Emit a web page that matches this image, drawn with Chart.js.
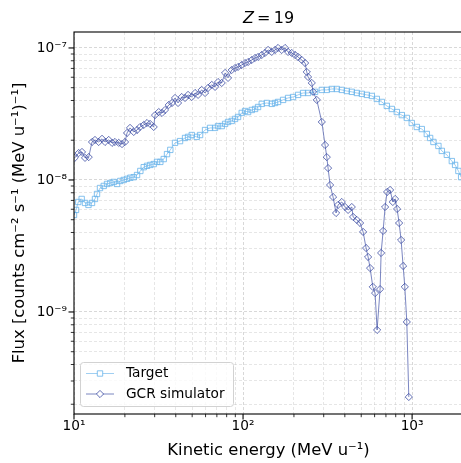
<!DOCTYPE html>
<html><head><meta charset="utf-8">
<script src="https://cdn.jsdelivr.net/npm/chart.js@4.4.1/dist/chart.umd.min.js"></script>
<style>
html,body{margin:0;padding:0;overflow:hidden;background:#fff;width:461px;height:463px}
#wrap{position:absolute;left:0;top:0;width:470px;height:463px}
</style>
</head><body><div id="wrap"><canvas id="c" width="470" height="463"></canvas></div>
<script>
// ---------------- data ----------------
const energyTarget = [10.0,10.28,10.60,11.10,11.62,12.18,12.78,13.31,13.68,14.25,
14.99,15.68,16.40,17.18,17.97,18.79,19.68,20.59,21.54,22.56,
23.60,24.69,25.85,27.04,28.28,29.62,30.98,32.41,33.94,35.50,
37.13,39.59,42.39,45.38,47.28,49.71,53.2,55.7,59.6,63.8,
68.3,71.1,74.8,78.3,81.5,85.7,89.7,93.4,98.2,102.8,
107.1,112.6,117.8,122.7,129.0,138.1,147.8,154.6,161.1,172.5,
184.6,197.6,211.5,226.5,242.4,266.7,292.3,312.8,334.9,358.4,
383.7,410.8,439.8,470.8,504.1,539.6,577.5,618.3,661.8,708.5,
758.5,812,869,930,995,1066,1141,1222,1278,1337,
1431,1499,1605,1718,1796,1879,1950];
const fluxTarget = [5.43e-9,5.93e-9,6.81e-9,7.18e-9,6.70e-9,6.47e-9,6.70e-9,7.18e-9,7.83e-9,8.69e-9,
9.01e-9,9.33e-9,9.49e-9,9.66e-9,9.33e-9,9.83e-9,1.00e-8,1.02e-8,1.04e-8,1.05e-8,
1.09e-8,1.17e-8,1.25e-8,1.28e-8,1.30e-8,1.32e-8,1.37e-8,1.37e-8,1.44e-8,1.57e-8,
1.69e-8,1.91e-8,1.97e-8,2.08e-8,2.12e-8,2.19e-8,2.12e-8,2.19e-8,2.39e-8,2.48e-8,
2.48e-8,2.56e-8,2.56e-8,2.66e-8,2.75e-8,2.80e-8,2.90e-8,3.00e-8,3.22e-8,3.33e-8,
3.27e-8,3.39e-8,3.45e-8,3.57e-8,3.77e-8,3.83e-8,3.77e-8,3.83e-8,3.90e-8,4.04e-8,
4.18e-8,4.25e-8,4.41e-8,4.56e-8,4.56e-8,4.65e-8,4.81e-8,4.81e-8,4.89e-8,4.89e-8,
4.81e-8,4.72e-8,4.65e-8,4.56e-8,4.49e-8,4.41e-8,4.33e-8,4.11e-8,3.90e-8,3.64e-8,
3.45e-8,3.27e-8,3.10e-8,2.95e-8,2.70e-8,2.52e-8,2.43e-8,2.23e-8,2.08e-8,1.94e-8,
1.81e-8,1.66e-8,1.55e-8,1.39e-8,1.30e-8,1.17e-8,1.05e-8];

const energyGCR = [10.1,10.66,11.15,11.62,12.22,12.78,13.31,14.00,14.65,15.26,
16.05,16.79,17.48,18.39,19.23,20.04,20.59,21.45,22.56,23.60,
24.58,25.85,27.04,28.17,29.62,30.15,31.71,33.17,34.55,36.34,
38.01,39.59,41.25,43.38,45.38,47.28,49.71,52.0,54.2,56.9,
59.6,62.1,65.3,68.3,71.1,74.8,78.3,81.5,85.7,89.7,
93.4,98.2,102.8,107.1,112.6,117.8,122.7,129.0,134.9,140.6,
147.8,154.6,161.1,169.4,177.2,184.6,194.1,203.1,211.5,222.5,
232.8,238.2,242.4,255.0,259.5,273.0,292.3,305.6,312.8,318.4,
327.2,340.8,355.0,364.8,383.7,401.5,418.1,439.8,447.6,470.8,
492.3,513.1,534.4,549.1,564.3,585.5,604.1,620.8,646.7,655.6,
673.7,692.2,711.2,741.0,768.8,793.3,815.2,837.8,860.9,884.6,
905.4,930.3,955.9];
const fluxGCR = [1.47e-8,1.60e-8,1.63e-8,1.47e-8,1.49e-8,1.94e-8,2.01e-8,1.94e-8,2.05e-8,1.94e-8,
2.01e-8,1.91e-8,1.94e-8,1.91e-8,1.87e-8,1.94e-8,2.27e-8,2.48e-8,2.31e-8,2.39e-8,
2.52e-8,2.61e-8,2.70e-8,2.66e-8,2.52e-8,3.10e-8,3.27e-8,3.22e-8,3.39e-8,3.70e-8,
3.83e-8,4.18e-8,3.83e-8,4.25e-8,4.18e-8,4.41e-8,4.25e-8,4.56e-8,4.41e-8,4.81e-8,
4.56e-8,4.98e-8,5.25e-8,5.07e-8,5.52e-8,5.43e-8,6.47e-8,5.93e-8,6.81e-8,7.05e-8,
7.18e-8,7.43e-8,7.69e-8,7.83e-8,8.11e-8,8.40e-8,8.55e-8,8.85e-8,9.16e-8,9.66e-8,
9.33e-8,9.66e-8,1.00e-7,9.66e-8,1.00e-7,9.33e-8,9.16e-8,8.85e-8,8.55e-8,8.11e-8,
7.69e-8,6.58e-8,6.03e-8,5.43e-8,4.65e-8,4.04e-8,2.75e-8,1.84e-8,1.49e-8,1.23e-8,
9.16e-9,7.43e-9,5.62e-9,6.47e-9,6.81e-9,6.24e-9,5.93e-9,6.24e-9,5.25e-9,4.98e-9,
4.72e-9,4.04e-9,3.05e-9,2.61e-9,2.15e-9,1.55e-9,1.39e-9,7.31e-10,1.49e-9,2.80e-9,
4.11e-9,6.24e-9,8.11e-9,8.40e-9,6.81e-9,7.18e-9,6.03e-9,4.72e-9,3.51e-9,2.23e-9,
1.55e-9,8.40e-10,2.27e-10];

const seriesNames = ['Target', 'GCR simulator'];
const xRange = [10, 2000];
const yRange = [1.687e-10, 1.321e-7];
const xMajorTicks = [10, 100, 1000];
const xTickLabels = ['10¹', '10²', '10³'];
const yMajorTicks = [1e-9, 1e-8, 1e-7];
const yTickLabels = ['10⁻⁹', '10⁻⁸', '10⁻⁷'];
const titleParts = ['Z', '=', '19'];
const xTitle = 'Kinetic energy (MeV u⁻¹)';
const yTitle = 'Flux [counts cm⁻² s⁻¹ (MeV u⁻¹)⁻¹]';

// ---------------- styling ----------------
const FONT = "'DejaVu Sans', sans-serif";
const C_T_MARK = '#67b3ea', C_T_LINE = 'rgba(103,179,234,0.7)';
const C_G_MARK = '#3a4aa2', C_G_LINE = 'rgba(58,74,162,0.75)';

function toPoints(xs, ys){ return xs.map((x,i)=>({x:x, y:ys[i]})); }

function logTicks(min, max){
  const out = [];
  const e0 = Math.floor(Math.log10(min)), e1 = Math.ceil(Math.log10(max));
  for (let e = e0; e <= e1; e++) {
    for (let m = 1; m <= 9; m++) {
      const v = +(m * Math.pow(10, e)).toPrecision(6);
      if (v >= min * 0.9999 && v <= max * 1.0001) out.push({value: v, major: m === 1});
    }
  }
  return out;
}
function labelFor(v, majors, labels){
  const i = majors.findIndex(m => Math.abs(m - v) / m < 1e-6);
  return i >= 0 ? labels[i] : '';
}
const gridColor = (c) => (c.tick && c.tick.major) ? 'rgba(165,165,165,0.55)' : 'rgba(185,185,185,0.45)';

const decor = {
  id: 'decor',
  afterDraw(chart){
    const {ctx, chartArea: a, scales: {x, y}} = chart;
    ctx.save();
    // tick marks
    ctx.strokeStyle = '#000';
    x.ticks.forEach(t => {
      const px = x.getPixelForValue(t.value);
      if (px < a.left - 0.5 || px > a.right + 0.5) return;
      ctx.lineWidth = t.major ? 1.1 : 0.8;
      ctx.beginPath(); ctx.moveTo(px, a.bottom); ctx.lineTo(px, a.bottom + (t.major ? 5.5 : 3.2)); ctx.stroke();
    });
    y.ticks.forEach(t => {
      const py = y.getPixelForValue(t.value);
      if (py < a.top - 0.5 || py > a.bottom + 0.5) return;
      ctx.lineWidth = t.major ? 1.1 : 0.8;
      ctx.beginPath(); ctx.moveTo(a.left, py); ctx.lineTo(a.left - (t.major ? 5.5 : 3.2), py); ctx.stroke();
    });
    // frame
    ctx.lineWidth = 1.1; ctx.strokeStyle = '#000';
    ctx.strokeRect(a.left, a.top, a.right - a.left, a.bottom - a.top);
    // title (math style: italic Z, relation spacing 0.2em)
    const cx = (a.left + a.right) / 2, fs = 16;
    ctx.fillStyle = '#000'; ctx.textBaseline = 'alphabetic'; ctx.textAlign = 'left';
    const fonts = ['italic ' + fs + 'px ' + FONT, fs + 'px ' + FONT, fs + 'px ' + FONT];
    const gap = 0.2 * fs;
    const widths = titleParts.map((p, i) => { ctx.font = fonts[i]; return ctx.measureText(p).width; });
    const total = widths[0] + widths[1] + widths[2] + 2 * gap;
    let sx = cx - total / 2;
    titleParts.forEach((p, i) => { ctx.font = fonts[i]; ctx.fillText(p, sx, 23); sx += widths[i] + (i < 2 ? gap : 0); });
    // legend
    const bx = 80.5, by = 362.5, bw = 153, bh = 44;
    ctx.beginPath(); ctx.roundRect(bx, by, bw, bh, 3);
    ctx.fillStyle = 'rgba(255,255,255,0.8)'; ctx.fill();
    ctx.strokeStyle = '#d2d2d2'; ctx.lineWidth = 1; ctx.stroke();
    const rows = [
      {name: seriesNames[0], y: 373.5, line: C_T_LINE, mark: C_T_MARK, shape: 'sq'},
      {name: seriesNames[1], y: 394.0, line: C_G_LINE, mark: C_G_MARK, shape: 'dm'}
    ];
    rows.forEach(r => {
      ctx.strokeStyle = r.line; ctx.lineWidth = 0.9;
      ctx.beginPath(); ctx.moveTo(86, r.y); ctx.lineTo(114, r.y); ctx.stroke();
      ctx.strokeStyle = r.mark; ctx.lineWidth = 0.8;
      ctx.beginPath();
      if (r.shape === 'sq') { ctx.rect(100 - 2.7, r.y - 2.7, 5.4, 5.4); }
      else { ctx.moveTo(100, r.y - 3.6); ctx.lineTo(103.6, r.y); ctx.lineTo(100, r.y + 3.6); ctx.lineTo(96.4, r.y); ctx.closePath(); }
      ctx.fillStyle = '#fff'; ctx.fill(); ctx.stroke();
      ctx.fillStyle = '#000'; ctx.font = '13.7px ' + FONT; ctx.textBaseline = 'middle'; ctx.textAlign = 'left';
      ctx.fillText(r.name, 126, r.y);
    });
    ctx.restore();
  }
};

new Chart(document.getElementById('c'), {
  type: 'scatter',
  data: {
    datasets: [
      {
        label: seriesNames[0], data: toPoints(energyTarget, fluxTarget), showLine: true, order: 1,
        borderColor: C_T_LINE, borderWidth: 0.9,
        pointStyle: 'rect', pointRadius: 3.8, pointBorderWidth: 0.8,
        pointBorderColor: C_T_MARK, pointBackgroundColor: 'rgba(0,0,0,0)'
      },
      {
        label: seriesNames[1], data: toPoints(energyGCR, fluxGCR), showLine: true, order: 0,
        borderColor: C_G_LINE, borderWidth: 0.9,
        pointStyle: 'rectRot', pointRadius: 3.6, pointBorderWidth: 0.8,
        pointBorderColor: C_G_MARK, pointBackgroundColor: 'rgba(0,0,0,0)'
      }
    ]
  },
  options: {
    responsive: false, animation: false, devicePixelRatio: 1,
    layout: {padding: {top: 32, right: 7, left: 0, bottom: 0}},
    plugins: {legend: {display: false}, tooltip: {enabled: false}, title: {display: false}},
    scales: {
      x: {
        type: 'logarithmic', position: 'bottom', min: xRange[0], max: xRange[1],
        afterBuildTicks: (s) => { s.ticks = logTicks(xRange[0], xRange[1]); },
        afterFit: (s) => { s.height = 49; },
        ticks: {autoSkip: false, maxRotation: 0, padding: 4, color: '#000', font: {family: FONT, size: 13.7},
          callback: (v) => labelFor(v, xMajorTicks, xTickLabels)},
        grid: {drawTicks: false, color: gridColor, lineWidth: 0.8},
        border: {display: false, dash: [3, 2]},
        title: {display: true, text: xTitle, color: '#000', font: {family: FONT, size: 16.4}, padding: {top: 0, bottom: 2}}
      },
      y: {
        type: 'logarithmic', position: 'left', min: yRange[0], max: yRange[1],
        afterBuildTicks: (s) => { s.ticks = logTicks(yRange[0], yRange[1]); },
        afterFit: (s) => { s.width = 74; },
        ticks: {autoSkip: false, padding: 7, color: '#000', font: {family: FONT, size: 13.7},
          callback: (v) => labelFor(v, yMajorTicks, yTickLabels)},
        grid: {drawTicks: false, color: gridColor, lineWidth: 0.8},
        border: {display: false, dash: [3, 2]},
        title: {display: true, text: yTitle, color: '#000', font: {family: FONT, size: 16.4}, padding: {top: 10, bottom: 0}}
      }
    }
  },
  plugins: [decor]
});
</script>
</body></html>
